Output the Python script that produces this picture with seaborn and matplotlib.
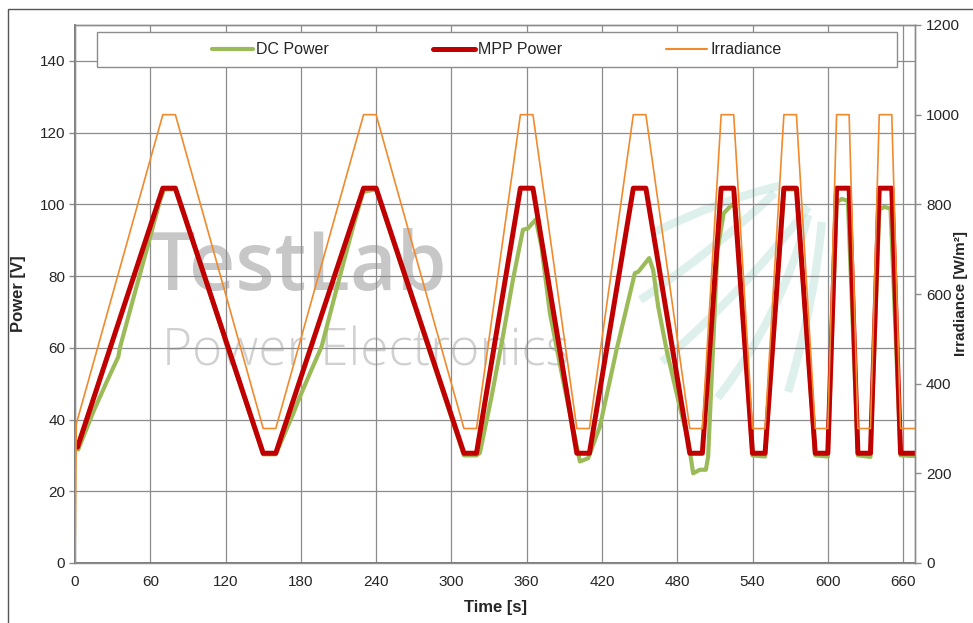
import pandas as pd
import seaborn as sns
import matplotlib.pyplot as plt
from matplotlib.patches import Rectangle, PathPatch
from matplotlib.path import Path
from matplotlib.lines import Line2D

# irradiance profile (W/m2), right axis
irr_time = [0, 1, 70, 80, 150, 160, 230, 240, 310, 320, 355, 365, 400, 410,
            445, 455, 490, 500, 515, 525, 540, 550, 565, 575, 590, 600,
            607, 617, 624, 634, 641, 651, 658, 670]
irr_value = [0, 310, 1000, 1000, 300, 300, 1000, 1000, 300, 300, 1000, 1000, 300, 300,
             1000, 1000, 300, 300, 1000, 1000, 300, 300, 1000, 1000, 300, 300,
             1000, 1000, 300, 300, 1000, 1000, 300, 300]

# MPP power (left axis)
mpp_time = [2, 70, 80, 150, 160, 230, 240, 310, 320, 355, 365, 400, 410,
            445, 455, 490, 500, 515, 525, 540, 550, 565, 575, 590, 600,
            607, 617, 624, 634, 641, 651, 658, 670]
mpp_power = [32.3, 104.5, 104.5, 30.6, 30.6, 104.5, 104.5, 30.6, 30.6, 104.5, 104.5, 30.6, 30.6,
             104.5, 104.5, 30.6, 30.6, 104.5, 104.5, 30.6, 30.6, 104.5, 104.5, 30.6, 30.6,
             104.5, 104.5, 30.6, 30.6, 104.5, 104.5, 30.6, 30.6]

# measured DC power (left axis)
dc_time = [2.5, 15, 25, 34.5, 36, 49, 58.4, 67.7, 71, 80, 150, 160,
           174, 179.3, 188, 196.5, 211, 221.7, 229.7, 240, 310, 320,
           322.7, 332, 341, 349, 357, 361, 367.3, 371.8, 378.5, 389, 402.4, 409,
           418.3, 431.6, 446.2, 449, 457.6, 460.8, 464.8, 471.5, 482, 488.7, 492.7, 498, 502.8, 504.6,
           512, 517, 520.5, 524, 526.5, 540, 550, 565, 575, 590, 600,
           607, 611, 616, 624, 634, 641, 645, 650, 658, 670]
dc_power = [31.6, 42.5, 50.3, 57.5, 60.3, 77, 89, 101, 104.2, 104.2, 30.3, 30.3,
            41.7, 46.4, 53.5, 60.3, 79.8, 93.8, 103.5, 104.2, 30.0, 30.0,
            30.7, 46.4, 63.1, 78.9, 92.9, 93.3, 95.8, 88.2, 69.7, 51, 28.3, 29.2,
            38, 59.4, 80.8, 81.2, 85, 81.7, 71.5, 59.4, 43.6, 34.3, 25, 26, 26, 29.6,
            87, 97.5, 98.8, 100, 99, 30, 29.7, 104.2, 104.2, 30, 29.7,
            100.5, 101.5, 101, 30, 29.6, 98.5, 99.3, 98.8, 30, 29.8]

time_ticks = [0, 60, 120, 180, 240, 300, 360, 420, 480, 540, 600, 660]
power_ticks = [0, 20, 40, 60, 80, 100, 120, 140]
irr_ticks = [0, 200, 400, 600, 800, 1000, 1200]

irr_df = pd.DataFrame({"time": irr_time, "irr": irr_value})
mpp_df = pd.DataFrame({"time": mpp_time, "power": mpp_power})
dc_df = pd.DataFrame({"time": dc_time, "power": dc_power})

sns.set_style("white")
plt.rcParams["font.family"] = ["Liberation Sans", "DejaVu Sans"]

GREEN = "#9BBB59"
RED = "#C00000"
ORANGE = "#F08A2C"
GRID = "#8C8C8C"

fig = plt.figure(figsize=(9.73, 6.23), dpi=100)
ax = fig.add_axes([75 / 973, 60 / 623, 840 / 973, 538 / 623])
ax2 = ax.twinx()

# watermark
ax.text(0.089, 0.507, "TestLab", transform=ax.transAxes, fontsize=58,
        family=["Open Sans", "DejaVu Sans"], fontweight="semibold",
        color="#BDBDBD", alpha=0.85, zorder=0)
ax.text(0.104, 0.368, "Power Electronics", transform=ax.transAxes, fontsize=37,
        family=["Open Sans", "DejaVu Sans"], fontweight="light",
        color="#C8C8C8", alpha=0.85, zorder=0)
swooshes = [
    [(0.690, 0.615), (0.768, 0.675), (0.839, 0.701)],
    [(0.673, 0.489), (0.762, 0.582), (0.833, 0.688)],
    [(0.699, 0.374), (0.798, 0.507), (0.873, 0.662)],
    [(0.765, 0.307), (0.839, 0.452), (0.873, 0.647)],
    [(0.849, 0.318), (0.881, 0.489), (0.889, 0.634)],
]
for pts in swooshes:
    path = Path(pts, [Path.MOVETO, Path.CURVE3, Path.CURVE3])
    ax.add_patch(PathPatch(path, transform=ax.transAxes, fill=False,
                           edgecolor="#B5DED6", lw=6, alpha=0.45,
                           capstyle="butt", zorder=0.5))

sns.lineplot(data=dc_df, x="time", y="power", ax=ax, color=GREEN, linewidth=3.0,
             estimator=None, zorder=2)
sns.lineplot(data=mpp_df, x="time", y="power", ax=ax, color=RED, linewidth=3.6,
             estimator=None, zorder=3)
sns.lineplot(data=irr_df, x="time", y="irr", ax=ax2, color=ORANGE, linewidth=1.2,
             estimator=None, zorder=3)

ax.set_xlim(0, 669.5)
ax.set_ylim(0, 150)
ax2.set_ylim(0, 1200)
ax.set_xticks(time_ticks)
ax.set_yticks(power_ticks)
ax2.set_yticks(irr_ticks)

ax.grid(True, color=GRID, linewidth=0.9)
ax.set_axisbelow(True)
for a in (ax, ax2):
    for s in a.spines.values():
        s.set_color(GRID)
        s.set_linewidth(1.0)
ax.spines["left"].set_color("#707070")
ax.spines["bottom"].set_color("#707070")
ax.spines["left"].set_linewidth(1.3)
ax.spines["bottom"].set_linewidth(1.3)

ax.tick_params(axis="y", which="major", length=4, width=1, color=GRID,
               labelsize=11, pad=3, left=True)
ax.tick_params(axis="x", length=0, labelsize=11, pad=9)
ax2.tick_params(axis="y", length=4, width=1, color=GRID, labelsize=11, pad=4)

ax.set_xlabel("Time [s]", fontsize=12, fontweight="bold")
ax.set_ylabel("Power [V]", fontsize=12, fontweight="bold")
ax2.set_ylabel("Irradiance [W/m²]", fontsize=11, fontweight="bold")
ax.xaxis.set_label_coords(0.5, -0.068)
ax.yaxis.set_label_coords(-0.058, 0.5)
ax2.yaxis.set_label_coords(1.046, 0.5)

# legend box
ax2.add_patch(Rectangle((0.026, 0.922), 0.952, 0.065, transform=ax2.transAxes,
                        facecolor="white", edgecolor="#8C8C8C", lw=1.0, zorder=4))
handles = [Line2D([], [], color=GREEN, lw=3.0),
           Line2D([], [], color=RED, lw=3.6),
           Line2D([], [], color=ORANGE, lw=1.5)]
ax2.legend(handles, ["DC Power", "MPP Power", "Irradiance"], ncol=3, frameon=False,
           loc="center", bbox_to_anchor=(0.502, 0.954), fontsize=11.5,
           handlelength=2.6, handletextpad=0.2, columnspacing=6.5)

# outer chart border (top / left visible)
fig.add_artist(Rectangle((8 / 973, -0.1), 1.2, 1.1 - 9 / 623, transform=fig.transFigure,
                         fill=False, edgecolor="#555555", lw=1.0))

fig.savefig("out.png", dpi=100)
